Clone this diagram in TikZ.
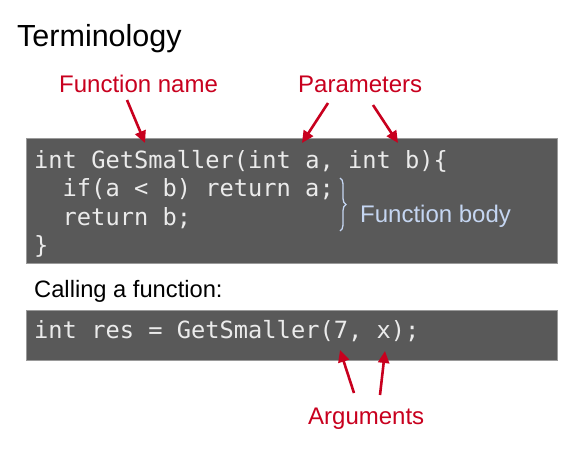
\documentclass[tikz,border=0pt]{standalone}
\usepackage{fontspec}
\setmainfont{Liberation Sans}
\setmonofont{DejaVu Sans Mono}
\usepackage{xcolor}
\usetikzlibrary{arrows.meta, decorations.pathreplacing}
\definecolor{codebg}{HTML}{595959}
\definecolor{boxedge}{HTML}{9A9A9A}
\definecolor{codetext}{HTML}{EBEBEB}
\definecolor{hintred}{HTML}{C8001E}
\definecolor{bodyblue}{HTML}{C5D6F2}

\begin{document}
\begin{tikzpicture}[
  x=1pt, y=-1pt,
  codebox/.style={draw=boxedge, fill=codebg, line width=1pt, anchor=north west, inner sep=0pt, minimum width=531pt},
  codeline/.style={anchor=base west, inner sep=0pt, text=codetext, font=\fontsize{23.7}{28}\selectfont\ttfamily},
  redtext/.style={anchor=base west, inner sep=0pt, text=hintred, font=\fontsize{24}{28}\selectfont},
  pointer/.style={-{Triangle[length=12pt, width=11pt]}, line width=2.6pt, draw=hintred}
]
\useasboundingbox (0,0) rectangle (566,450);

\node[anchor=base west, inner sep=0pt, font=\fontsize{30.5}{36}\selectfont] (title) at (17,46) {Terminology};

% definition
\node[codebox, minimum height=125pt] (defbox) at (26,138) {};
\node[codeline] (line1) at (34,168) {int GetSmaller(int a, int b)\{};
\node[codeline] (line2) at (62.5,196.5) {if(a < b) return a;};
\node[codeline] (line3) at (62.5,225) {return b;};
\node[codeline] (line4) at (34,253) {\}};

\node[redtext] (fname) at (59,92) {Function name};
\node[redtext] (params) at (298,92) {Parameters};

\coordinate (fnTail) at (127,100);
\coordinate (fnTip) at (145,143);
\coordinate (paTail) at (328,103);
\coordinate (paTip) at (302,143);
\coordinate (pbTail) at (373,105);
\coordinate (pbTip) at (398,143);
\draw[pointer] (fnTail) -- (fnTip);
\draw[pointer] (paTail) -- (paTip);
\draw[pointer] (pbTail) -- (pbTip);

% body brace
\coordinate (braceTop) at (340,178);
\coordinate (braceBot) at (340,231);
\draw[bodyblue, line width=1.3pt, decorate, decoration={brace, amplitude=6pt}] (braceTop) -- (braceBot);
\node[anchor=base west, inner sep=0pt, text=bodyblue, font=\fontsize{24}{28}\selectfont] (body) at (360,222) {Function body};

% call
\node[anchor=base west, inner sep=0pt, font=\fontsize{23.7}{28}\selectfont] (calling) at (34,297) {Calling a function:};
\node[codebox, minimum height=50pt] (callbox) at (26,309.5) {};
\node[codeline] (callline) at (34,338) {int res = GetSmaller(7, x);};

\node[redtext] (args) at (308,424) {Arguments};
\coordinate (aaTail) at (354,393);
\coordinate (aaTip) at (340,350);
\coordinate (abTail) at (380,395);
\coordinate (abTip) at (385,351);
\draw[pointer] (aaTail) -- (aaTip);
\draw[pointer] (abTail) -- (abTip);
\end{tikzpicture}
\end{document}
